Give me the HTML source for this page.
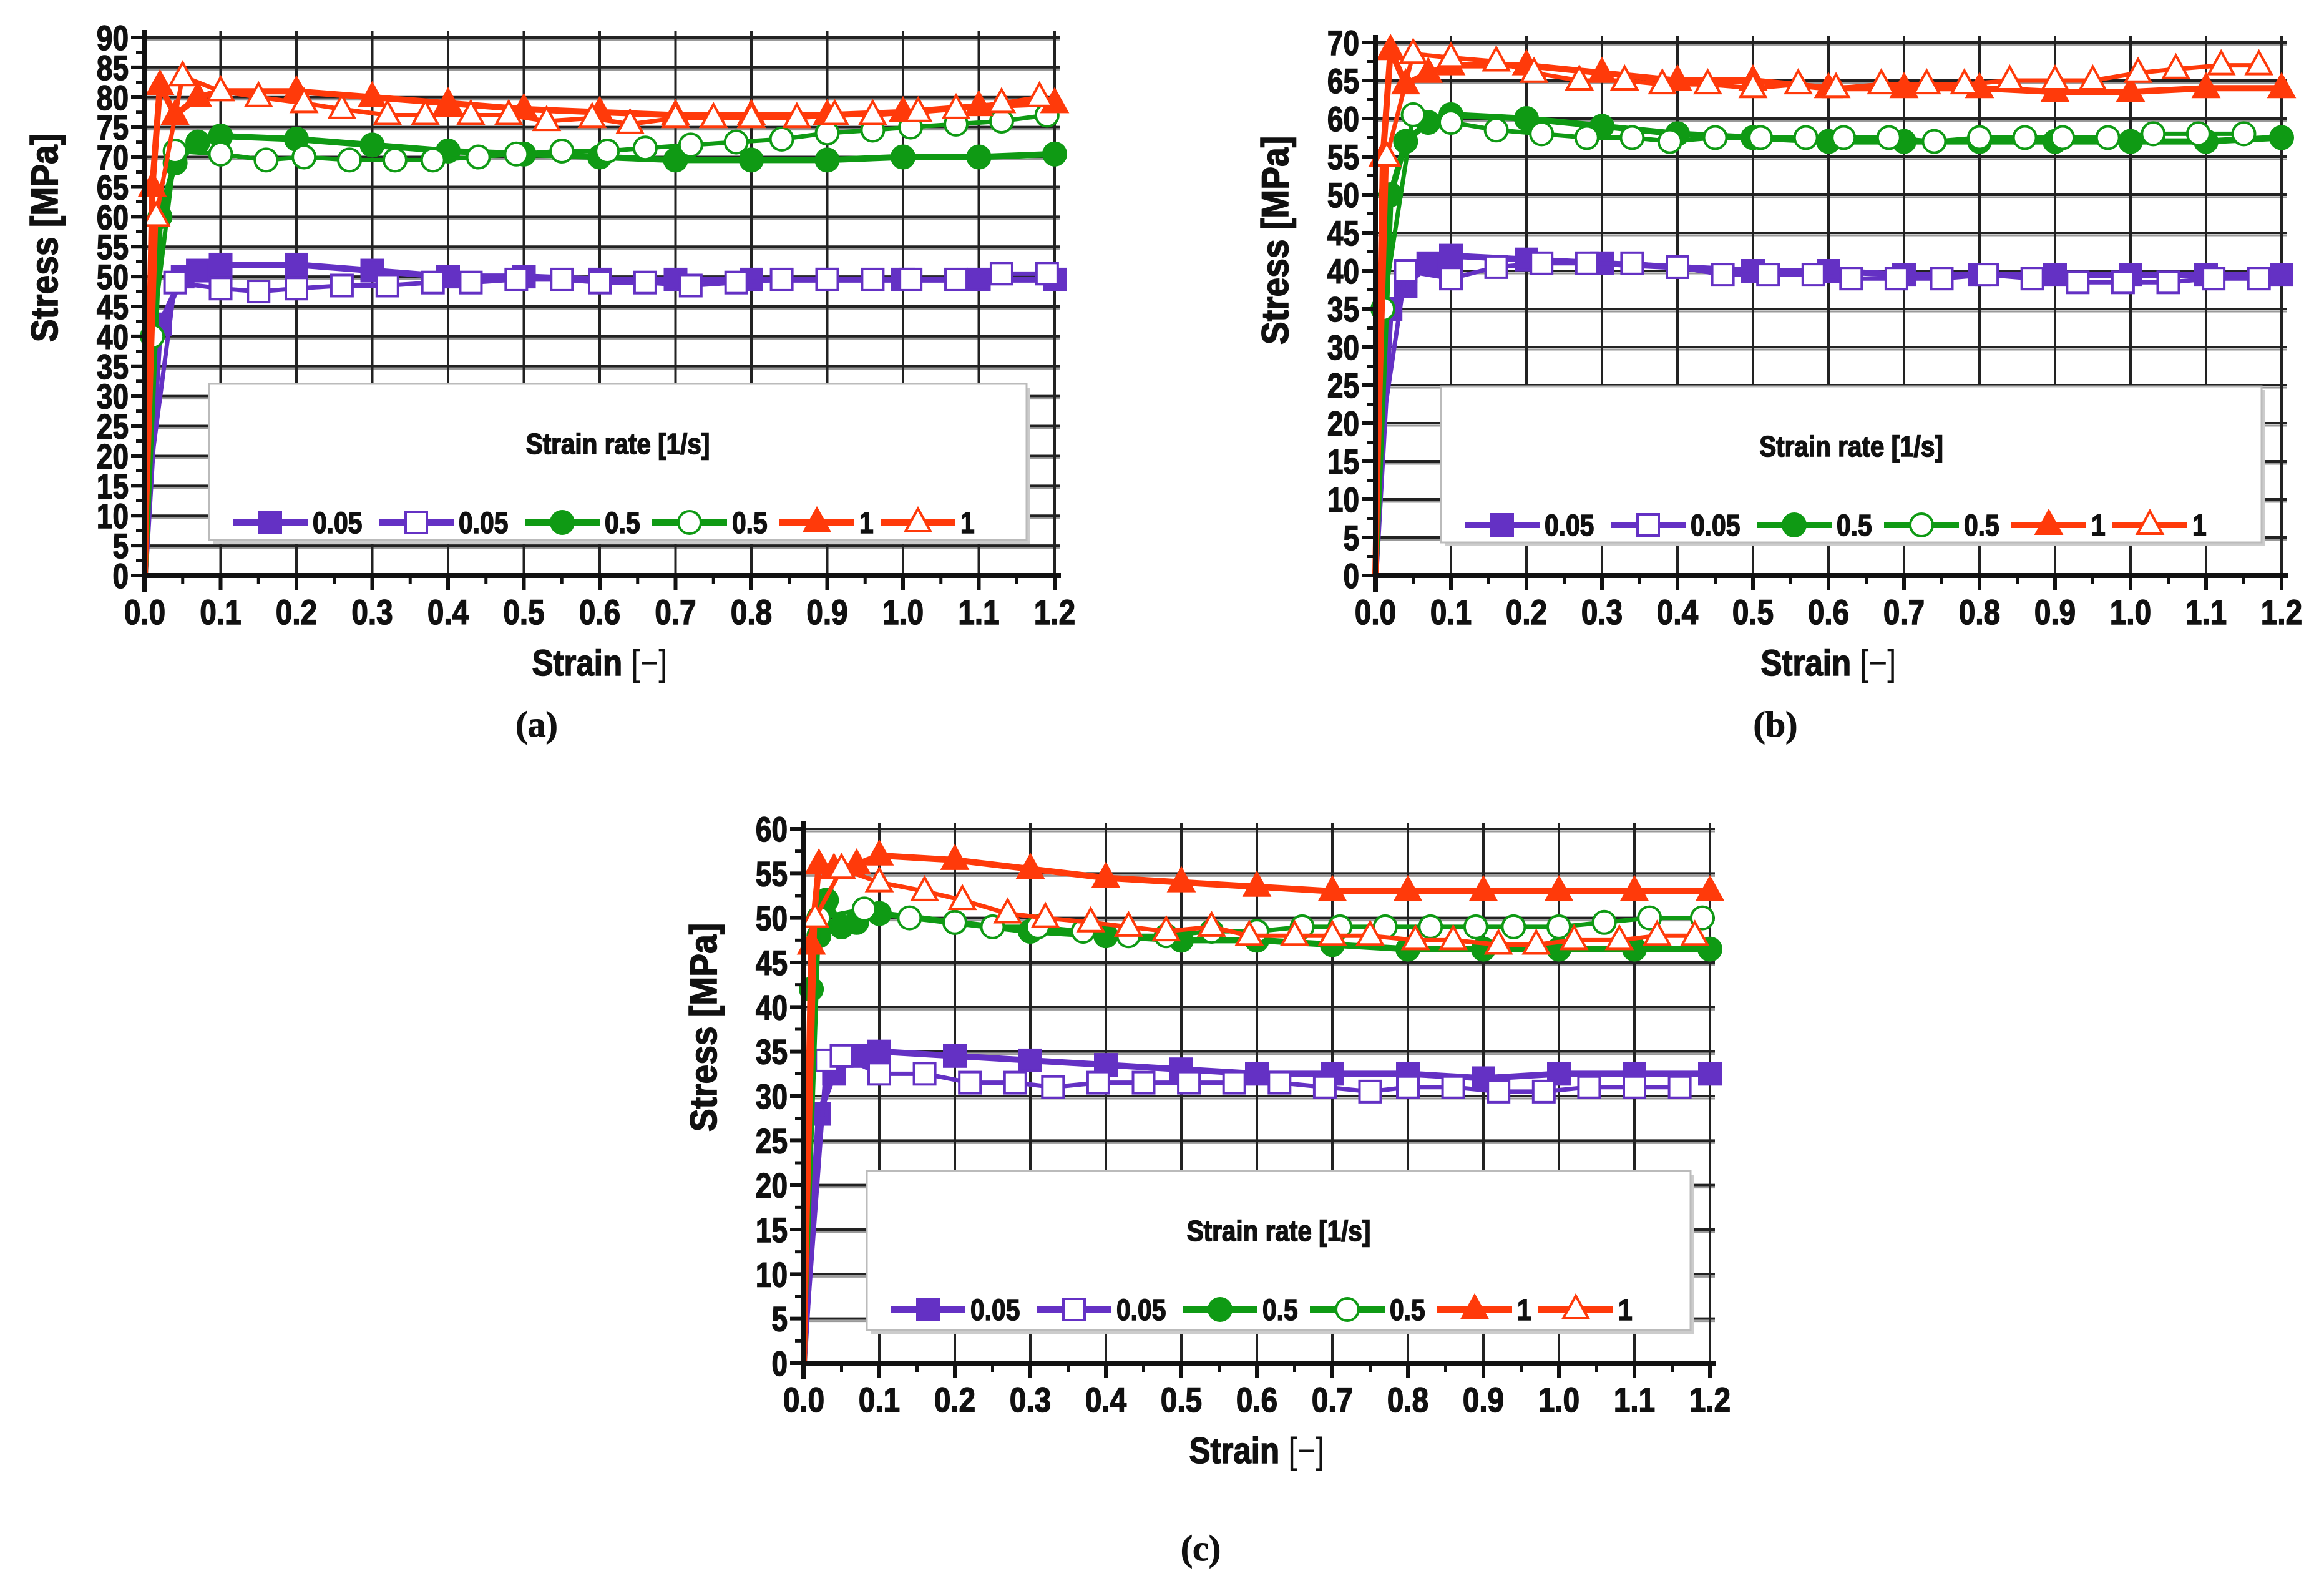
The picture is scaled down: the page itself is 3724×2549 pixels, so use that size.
<!DOCTYPE html>
<html><head><meta charset="utf-8"><style>
html,body{margin:0;padding:0;background:#fff;}
svg{display:block;}
text{font-family:"Liberation Sans",Arial,sans-serif;font-weight:bold;fill:#111;stroke:#111;stroke-width:1.6px;}
text.serif{font-family:"Liberation Serif",serif;stroke-width:1px;}
tspan.norm{font-weight:normal;stroke-width:0;}
</style></head>
<body>
<svg id="fig" width="3724" height="2549" viewBox="0 0 3724 2549" xmlns="http://www.w3.org/2000/svg"></svg>
<script>
// ---- data ----
const xTicks = [0.0,0.1,0.2,0.3,0.4,0.5,0.6,0.7,0.8,0.9,1.0,1.1,1.2];
const xTickLabels = ["0.0","0.1","0.2","0.3","0.4","0.5","0.6","0.7","0.8","0.9","1.0","1.1","1.2"];
const legendLabels = ["0.05","0.05","0.5","0.5","1","1"];
const panelLabels = ["(a)","(b)","(c)"];
const yMaxA = 90, yMaxB = 70, yMaxC = 60;

// panel (a)
const aPFx=[0,0.02,0.05,0.07,0.1,0.2,0.3,0.4,0.5,0.6,0.7,0.8,0.9,1.0,1.1,1.2];
const aPFy=[0,42,50,51,52,52,51,50,50,49.5,49.5,49.5,49.5,49.5,49.5,49.5];
const aPOx=[0,0.01,0.04,0.1,0.15,0.2,0.26,0.32,0.38,0.43,0.49,0.55,0.6,0.66,0.72,0.78,0.84,0.9,0.96,1.01,1.07,1.13,1.19];
const aPOy=[0,20,49,48,47.5,48,48.5,48.5,49,49,49.5,49.5,49,49,48.5,49,49.5,49.5,49.5,49.5,49.5,50.5,50.5];
const aGFx=[0,0.02,0.04,0.07,0.1,0.2,0.3,0.4,0.5,0.6,0.7,0.8,0.9,1.0,1.1,1.2];
const aGFy=[0,60,69,72.5,73.5,73,72,71,70.5,70,69.5,69.5,69.5,70,70,70.5];
const aGOx=[0,0.01,0.04,0.1,0.16,0.21,0.27,0.33,0.38,0.44,0.49,0.55,0.61,0.66,0.72,0.78,0.84,0.9,0.96,1.01,1.07,1.13,1.19];
const aGOy=[0,40,71,70.5,69.5,70,69.5,69.5,69.5,70,70.5,71,71,71.5,72,72.5,73,74,74.5,75,75.5,76,77];
const aRFx=[0,0.01,0.02,0.04,0.07,0.1,0.2,0.3,0.4,0.5,0.6,0.7,0.8,0.9,1.0,1.1,1.2];
const aRFy=[0,65,82,77,80,81,81,80,79,78,77.5,77,77,77,77.5,78.5,79];
const aROx=[0,0.015,0.05,0.1,0.15,0.21,0.26,0.32,0.37,0.43,0.48,0.53,0.59,0.64,0.7,0.75,0.8,0.86,0.91,0.96,1.02,1.07,1.13,1.18];
const aROy=[0,60,83.5,81,80,79,78,77,77,77,77,76,76.5,75.5,76.5,76.5,76.5,76.5,77,77,77.5,78,79,80];

// panel (b)
const bPFx=[0,0.02,0.04,0.07,0.1,0.2,0.3,0.4,0.5,0.6,0.7,0.8,0.9,1.0,1.1,1.2];
const bPFy=[0,35,38,41,42,41.5,41,40.5,40,40,39.5,39.5,39.5,39.5,39.5,39.5];
const bPOx=[0,0.01,0.04,0.1,0.16,0.22,0.28,0.34,0.4,0.46,0.52,0.58,0.63,0.69,0.75,0.81,0.87,0.93,0.99,1.05,1.11,1.17];
const bPOy=[0,20,40,39,40.5,41,41,41,40.5,39.5,39.5,39.5,39,39,39,39.5,39,38.5,38.5,38.5,39,39];
const bGFx=[0,0.02,0.04,0.07,0.1,0.2,0.3,0.4,0.5,0.6,0.7,0.8,0.9,1.0,1.1,1.2];
const bGFy=[0,50,57,59.5,60.5,60,59,58,57.5,57,57,57,57,57,57,57.5];
const bGOx=[0,0.01,0.05,0.1,0.16,0.22,0.28,0.34,0.39,0.45,0.51,0.57,0.62,0.68,0.74,0.8,0.86,0.91,0.97,1.03,1.09,1.15];
const bGOy=[0,35,60.5,59.5,58.5,58,57.5,57.5,57,57.5,57.5,57.5,57.5,57.5,57,57.5,57.5,57.5,57.5,58,58,58];
const bRFx=[0,0.01,0.02,0.04,0.07,0.1,0.2,0.3,0.4,0.5,0.6,0.7,0.8,0.9,1.0,1.1,1.2];
const bRFy=[0,55,69,64.5,66,67,67,66,65,65,64,64,64,63.5,63.5,64,64];
const bROx=[0,0.015,0.05,0.1,0.16,0.21,0.27,0.33,0.38,0.44,0.5,0.56,0.61,0.67,0.73,0.78,0.84,0.9,0.95,1.01,1.06,1.12,1.17];
const bROy=[0,55,68.5,68,67.5,66,65,65,64.5,64.5,64,64.5,64,64.5,64.5,64.5,65,65,65,66,66.5,67,67];

// panel (c)
const cPFx=[0,0.02,0.04,0.07,0.1,0.2,0.3,0.4,0.5,0.6,0.7,0.8,0.9,1.0,1.1,1.2];
const cPFy=[0,28,32.5,34.5,35,34.5,34,33.5,33,32.5,32.5,32.5,32,32.5,32.5,32.5];
const cPOx=[0,0.03,0.05,0.1,0.16,0.22,0.28,0.33,0.39,0.45,0.51,0.57,0.63,0.69,0.75,0.8,0.86,0.92,0.98,1.04,1.1,1.16];
const cPOy=[0,34,34.5,32.5,32.5,31.5,31.5,31,31.5,31.5,31.5,31.5,31.5,31,30.5,31,31,30.5,30.5,31,31,31];
const cGFx=[0,0.01,0.02,0.03,0.05,0.07,0.1,0.2,0.3,0.4,0.5,0.6,0.7,0.8,0.9,1.0,1.1,1.2];
const cGFy=[0,42,48,52,49,49.5,50.5,49.5,48.5,48,47.5,47.5,47,46.5,46.5,46.5,46.5,46.5];
const cGOx=[0,0.02,0.08,0.14,0.2,0.25,0.31,0.37,0.43,0.48,0.54,0.6,0.66,0.71,0.77,0.83,0.89,0.94,1.0,1.06,1.12,1.19];
const cGOy=[0,50,51,50,49.5,49,49,48.5,48,48,48.5,48.5,49,49,49,49,49,49,49,49.5,50,50];
const cRFx=[0,0.01,0.02,0.04,0.07,0.1,0.2,0.3,0.4,0.5,0.6,0.7,0.8,0.9,1.0,1.1,1.2];
const cRFy=[0,47,56,55.5,56,57,56.5,55.5,54.5,54,53.5,53,53,53,53,53,53];
const cROx=[0,0.015,0.05,0.1,0.16,0.21,0.27,0.32,0.38,0.43,0.48,0.54,0.59,0.65,0.7,0.75,0.81,0.86,0.92,0.97,1.02,1.08,1.13,1.18];
const cROy=[0,50,55.5,54,53,52,50.5,50,49.5,49,48.5,49,48,48,48,48,47.5,47.5,47,47,47.5,47.5,48,48];

// ---- drawing ----
const NS="http://www.w3.org/2000/svg";
const svg=document.getElementById('fig');
const PURPLE="#6431c4", GREEN="#0f9a14", RED="#ff3a0a";
function mk(tag,attrs,parent){const e=document.createElementNS(NS,tag);for(const k in attrs)e.setAttribute(k,attrs[k]);(parent||svg).appendChild(e);return e;}

function marker(g,shape,filled,color,px,py){
  const fill=filled?color:"#fff";
  let m;
  if(shape==="sq"){m=mk('rect',{x:px-17,y:py-17,width:34,height:34,fill:fill,stroke:color,'stroke-width':4},g);}
  else if(shape==="ci"){m=mk('circle',{cx:px,cy:py,r:18,fill:fill,stroke:color,'stroke-width':4},g);}
  else {m=mk('polygon',{points:(px)+","+(py-22)+" "+(px+20)+","+(py+14)+" "+(px-20)+","+(py+14),fill:fill,stroke:color,'stroke-width':4},g);}
  return m;
}

function panel(id,L,R,T,B,yMax,series,leg,lab){
  const g=mk('g',{});
  
  
  const X=v=>L+(R-L)*v/1.2;
  const Y=v=>B-(B-T)*v/yMax;
  const grid=mk('g',{},g);
  
  
  for(let v=5;v<=yMax;v+=5){
    mk('line',{x1:L,x2:R+8,y1:Y(v)+4,y2:Y(v)+4,stroke:"#999",'stroke-width':3},grid);
    mk('line',{x1:L,x2:R+8,y1:Y(v),y2:Y(v),stroke:"#222",'stroke-width':4},grid);
  }
  for(let i=1;i<xTicks.length;i++){
    mk('line',{x1:X(xTicks[i]),x2:X(xTicks[i]),y1:T-10,y2:B,stroke:"#222",'stroke-width':4},grid);
  }
  series.forEach(s=>{
    const sg=mk('g',{},g);
    
    
    const pts=s.x.map((v,i)=>X(v)+","+Y(s.y[i])).join(" ");
    mk('polyline',{points:pts,fill:"none",stroke:s.color,'stroke-width':s.filled?10:7,'stroke-linejoin':"round"},sg);
    s.x.forEach((v,i)=>{ if(s.y[i]>=25 && i>0) marker(sg,s.shape,s.filled,s.color,X(v),Y(s.y[i])); });
  });
  const lg=mk('g',{},g);
  
  
  mk('rect',{x:leg.x+6,y:leg.y+6,width:leg.w,height:leg.h,fill:"#ccc"},lg);
  mk('rect',{x:leg.x,y:leg.y,width:leg.w,height:leg.h,fill:"#fff",stroke:"#bbb",'stroke-width':3},lg);
  const lt=mk('text',{x:leg.x+leg.w/2,y:leg.y+112,'text-anchor':"middle",'font-size':46,transform:"translate("+(leg.x+leg.w/2)+",0) scale(0.88,1) translate("+(-(leg.x+leg.w/2))+",0)"},lg);
  lt.textContent="Strain rate [1/s]";
  
  
  const tw=[98,98,68,68,26,26];
  let cx=leg.x+38; const ly=leg.y+222;
  series.forEach((s,i)=>{
    const e=mk('g',{},lg);
    
    
    mk('line',{x1:cx,x2:cx+120,y1:ly,y2:ly,stroke:s.color,'stroke-width':10},e);
    marker(e,s.shape,s.filled,s.color,cx+60,ly);
    const t=mk('text',{x:cx+128,y:ly+17,'font-size':48,transform:"translate("+(cx+128)+",0) scale(0.85,1) translate("+(-(cx+128))+",0)"},e);
    t.textContent=legendLabels[i];
    cx+=128+tw[i]+8;
  });
  mk('line',{x1:L,x2:L,y1:T-12,y2:B+26,stroke:"#111",'stroke-width':8},g);
  mk('line',{x1:L-4,x2:R+10,y1:B,y2:B,stroke:"#111",'stroke-width':8},g);
  for(let v=0;v<=yMax;v+=5){
    mk('line',{x1:L-22,x2:L,y1:Y(v),y2:Y(v),stroke:"#111",'stroke-width':6},g);
    if(v<yMax) mk('line',{x1:L-14,x2:L,y1:Y(v+2.5),y2:Y(v+2.5),stroke:"#111",'stroke-width':5},g);
    const t=mk('text',{x:L-26,y:Y(v)+20,'text-anchor':"end",'font-size':56,transform:"translate("+(L-26)+",0) scale(0.82,1) translate("+(-(L-26))+",0)"},g);
    t.textContent=String(v);
    
    
  }
  xTicks.forEach((v,i)=>{
    mk('line',{x1:X(v),x2:X(v),y1:B,y2:B+24,stroke:"#111",'stroke-width':6},g);
    if(i<xTicks.length-1) mk('line',{x1:X(v+0.05),x2:X(v+0.05),y1:B,y2:B+14,stroke:"#111",'stroke-width':5},g);
    const t=mk('text',{x:X(v),y:B+78,'text-anchor':"middle",'font-size':56,transform:"translate("+X(v)+",0) scale(0.85,1) translate("+(-X(v))+",0)"},g);
    t.textContent=xTickLabels[i];
    
    
  });
  const xt=mk('text',{x:(L+R)/2,y:B+160,'text-anchor':"middle",'font-size':58,transform:"translate("+((L+R)/2)+",0) scale(0.88,1) translate("+(-(L+R)/2)+",0)"},g);
  xt.innerHTML='Strain <tspan class="norm">[\u2212]</tspan>';
  
  
  const cy=(T+B)/2-110;
  const yt=mk('text',{x:0,y:0,'text-anchor':"middle",'font-size':60,transform:"translate("+(L-140)+","+cy+") rotate(-90) scale(0.92,1)"},g);
  yt.textContent="Stress [MPa]";
  
  
  const pl=mk('text',{x:lab.x,y:lab.y,'text-anchor':"middle",'font-size':58,'class':"serif"},g);
  pl.textContent=lab.t;
  
  
}

function S(name,x,y,color,shape,filled){return {name:name,x:x,y:y,color:color,shape:shape,filled:filled};}

panel('a',232,1690,60,922,yMaxA,[
  S('series-0.05-filled',aPFx,aPFy,PURPLE,'sq',true),S('series-0.05-open',aPOx,aPOy,PURPLE,'sq',false),
  S('series-0.5-filled',aGFx,aGFy,GREEN,'ci',true),S('series-0.5-open',aGOx,aGOy,GREEN,'ci',false),
  S('series-1-filled',aRFx,aRFy,RED,'tr',true),S('series-1-open',aROx,aROy,RED,'tr',false)
],{x:335,y:615,w:1310,h:250},{x:860,y:1180,t:panelLabels[0]});

panel('b',2204,3656,68,922,yMaxB,[
  S('series-0.05-filled',bPFx,bPFy,PURPLE,'sq',true),S('series-0.05-open',bPOx,bPOy,PURPLE,'sq',false),
  S('series-0.5-filled',bGFx,bGFy,GREEN,'ci',true),S('series-0.5-open',bGOx,bGOy,GREEN,'ci',false),
  S('series-1-filled',bRFx,bRFy,RED,'tr',true),S('series-1-open',bROx,bROy,RED,'tr',false)
],{x:2309,y:619,w:1315,h:250},{x:2845,y:1180,t:panelLabels[1]});

panel('c',1288,2740,1328,2184,yMaxC,[
  S('series-0.05-filled',cPFx,cPFy,PURPLE,'sq',true),S('series-0.05-open',cPOx,cPOy,PURPLE,'sq',false),
  S('series-0.5-filled',cGFx,cGFy,GREEN,'ci',true),S('series-0.5-open',cGOx,cGOy,GREEN,'ci',false),
  S('series-1-filled',cRFx,cRFy,RED,'tr',true),S('series-1-open',cROx,cROy,RED,'tr',false)
],{x:1389,y:1876,w:1320,h:255},{x:1924,y:2500,t:panelLabels[2]});
</script>
</body></html>
